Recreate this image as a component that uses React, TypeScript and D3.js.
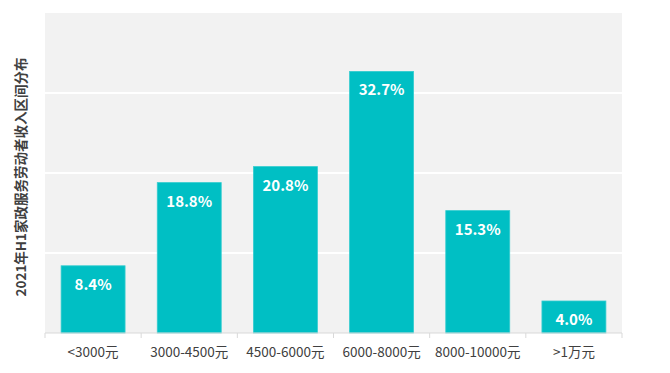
import React from "react";
import * as d3 from "d3";

const categories = ["<3000元", "3000-4500元", "4500-6000元", "6000-8000元", "8000-10000元", ">1万元"];
const values = [8.4, 18.8, 20.8, 32.7, 15.3, 4.0];
const yTicks = [0, 10, 20, 30, 40];
const yTitle = "2021年H1家政服务劳动者收入区间分布";

export default function App() {
  const W = 670, H = 373;
  const left = 45, right = 622, top = 13, bottom = 333;
  const x = d3.scaleBand<string>().domain(categories).range([left, right]).paddingInner(0.335).paddingOuter(0.1675);
  const y = d3.scaleLinear().domain([0, 40]).range([bottom, top]);
  const font = "'Noto Sans CJK SC', 'Microsoft YaHei', sans-serif";
  return (
    <svg width={W} height={H} style={{ position: "absolute", left: 0, top: 0 }} fontFamily={font}>
      <rect x={left} y={top} width={right - left} height={bottom - top} fill="#f2f2f2" />
      {yTicks.slice(1, -1).map((t) => (
        <line key={t} x1={left} x2={right} y1={y(t)} y2={y(t)} stroke="#ffffff" strokeWidth={2} />
      ))}
      {categories.map((c, i) => (
        <g key={c}>
          <rect x={x(c)} y={y(values[i])} width={x.bandwidth()} height={bottom - y(values[i])} fill="#00bfc4" stroke="#33cccf" strokeWidth={0.8} />
          <text x={(x(c) as number) + x.bandwidth() / 2} y={y(values[i]) + 24} textAnchor="middle" fill="#ffffff" fontSize={15} fontWeight="bold">
            {values[i].toFixed(1)}%
          </text>
          <text x={(x(c) as number) + x.bandwidth() / 2} y={357} textAnchor="middle" fill="#404040" fontSize={13.5}>
            {c}
          </text>
        </g>
      ))}
      <line x1={left} x2={right} y1={bottom} y2={bottom} stroke="#d9d9d9" strokeWidth={1} />
      {d3.range(categories.length + 1).map((i) => {
        const xx = left + (i * (right - left)) / categories.length;
        return <line key={i} x1={xx} x2={xx} y1={bottom} y2={bottom + 5} stroke="#d9d9d9" strokeWidth={1} />;
      })}
      <text transform={`translate(26,${(top + bottom) / 2 + 4}) rotate(-90)`} textAnchor="middle" fill="#404040" fontSize={13.5} fontWeight="bold">
        {yTitle}
      </text>
    </svg>
  );
}
